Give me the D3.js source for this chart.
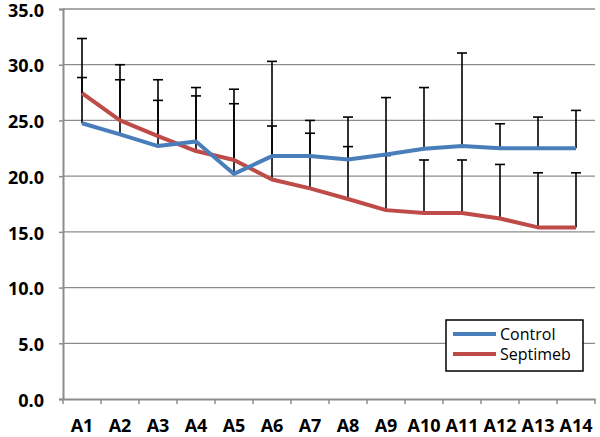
<!DOCTYPE html>
<html><head><meta charset="utf-8">
<script src="https://cdn.jsdelivr.net/npm/d3@7"></script>
<style>body{margin:0;background:#fff}svg{display:block}</style>
</head><body>
<svg id="c" width="600" height="437"></svg>
<script>
const categories = ["A1","A2","A3","A4","A5","A6","A7","A8","A9","A10","A11","A12","A13","A14"];
const controlMean = [24.75,23.75,22.7,23.1,20.2,21.8,21.8,21.5,21.95,22.45,22.7,22.5,22.5,22.5];
const controlErr  = [4.1,4.9,4.1,4.85,7.6,8.5,3.2,3.8,5.1,5.5,8.35,2.2,2.8,3.4];
const septMean    = [27.45,25.0,23.6,22.25,21.45,19.7,18.9,17.95,16.95,16.7,16.7,16.2,15.4,15.4];
const septErr     = [4.9,5.0,5.05,4.95,5.05,4.8,4.95,4.7,4.9,4.75,4.75,4.85,4.9,4.9];
const yTicks = [0,5,10,15,20,25,30,35];
const seriesNames = ["Control","Septimeb"];

(function(){
const svg = d3.select("#c");
const pLeft = 63, pRight = 595, pTop = 9, pBottom = 399;
const x = d3.scaleBand().domain(categories).range([pLeft, pRight]);
const y = d3.scaleLinear().domain([0,35]).range([pBottom, pTop]);
const font = "'Open Sans', sans-serif";

// gridlines
svg.append("g").selectAll("line").data(yTicks.filter(d=>d>0)).join("line")
  .attr("x1", pLeft).attr("x2", pRight)
  .attr("y1", d=>y(d)).attr("y2", d=>y(d))
  .attr("stroke", "#8c8c8c").attr("stroke-width", 1.3);

// y axis
const yAxis = svg.append("g").attr("transform", `translate(${pLeft},0)`)
  .call(d3.axisLeft(y).tickValues(yTicks).tickFormat(d3.format(".1f")).tickSize(4).tickPadding(15));
yAxis.select(".domain").attr("stroke", "#8c8c8c").attr("stroke-width", 2);
yAxis.selectAll(".tick line").attr("stroke", "#8c8c8c").attr("stroke-width", 1.5);
yAxis.selectAll("text").attr("font-family", font).attr("font-weight", "bold")
  .attr("font-size", 18).attr("fill", "#000").attr("dy", "0.4em");

// x axis
const xAxis = svg.append("g").attr("transform", `translate(0,${pBottom})`)
  .call(d3.axisBottom(x).tickSize(0).tickPadding(20));
xAxis.select(".domain").attr("stroke", "#8c8c8c").attr("stroke-width", 2);
xAxis.selectAll("text").attr("font-family", font).attr("font-weight", "bold")
  .attr("font-size", 18).attr("fill", "#000");
const bounds = categories.map(c => x(c)).concat([pRight]);
svg.append("g").selectAll("line").data(bounds).join("line")
  .attr("x1", d=>d).attr("x2", d=>d).attr("y1", pBottom).attr("y2", pBottom+5)
  .attr("stroke", "#8c8c8c").attr("stroke-width", 1.5);

const cx = c => x(c) + x.bandwidth()/2;

function errBars(mean, err) {
  const g = svg.append("g").attr("stroke", "#000").attr("stroke-width", 1.6);
  categories.forEach((c,i) => {
    const yt = y(mean[i] + err[i]);
    g.append("line").attr("x1", cx(c)).attr("x2", cx(c)).attr("y1", y(mean[i])).attr("y2", yt);
    g.append("line").attr("x1", cx(c)-5).attr("x2", cx(c)+5).attr("y1", yt).attr("y2", yt);
  });
}
errBars(controlMean, controlErr);
errBars(septMean, septErr);

const line = d3.line().x((d,i)=>cx(categories[i])).y(d=>y(d));
const colors = ["#4A7EBB", "#BE4B48"];
svg.append("path").datum(septMean).attr("d", line).attr("fill","none")
  .attr("stroke", colors[1]).attr("stroke-width", 4).attr("stroke-linejoin","round");
svg.append("path").datum(controlMean).attr("d", line).attr("fill","none")
  .attr("stroke", colors[0]).attr("stroke-width", 4).attr("stroke-linejoin","round");

const lg = svg.append("g");
lg.append("rect").attr("x", 446).attr("y", 320).attr("width", 137).attr("height", 51)
  .attr("fill", "#fff").attr("stroke", "#000").attr("stroke-width", 1.5);
seriesNames.forEach((n,i) => {
  const yy = 334 + i*20;
  lg.append("line").attr("x1", 453).attr("x2", 496).attr("y1", yy).attr("y2", yy)
    .attr("stroke", colors[i]).attr("stroke-width", 4);
  lg.append("text").attr("x", 500).attr("y", yy).attr("dy", "0.35em")
    .attr("font-family", font).attr("font-size", 16).attr("fill", "#000").text(n);
});
})();
</script>
</body></html>
